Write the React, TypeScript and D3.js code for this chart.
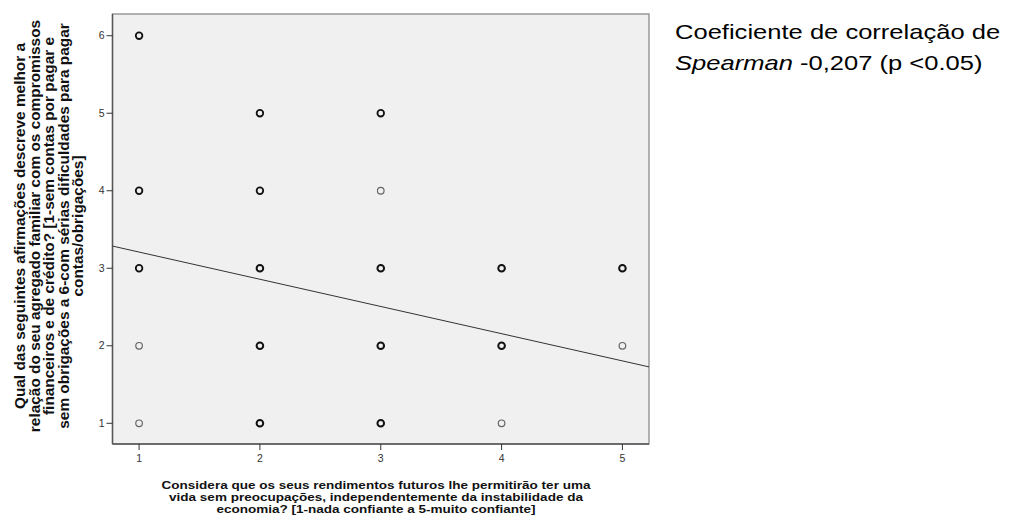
import React from 'react'
import * as d3 from 'd3'

// observed (x, y) pairs; n > 1 means overlapping cases drawn heavier
const points = [
  { x: 1, y: 6, n: 2 }, { x: 1, y: 4, n: 2 }, { x: 1, y: 3, n: 2 }, { x: 1, y: 2, n: 1 }, { x: 1, y: 1, n: 1 },
  { x: 2, y: 5, n: 2 }, { x: 2, y: 4, n: 2 }, { x: 2, y: 3, n: 3 }, { x: 2, y: 2, n: 3 }, { x: 2, y: 1, n: 3 },
  { x: 3, y: 5, n: 2 }, { x: 3, y: 4, n: 1 }, { x: 3, y: 3, n: 3 }, { x: 3, y: 2, n: 3 }, { x: 3, y: 1, n: 3 },
  { x: 4, y: 3, n: 3 }, { x: 4, y: 2, n: 3 }, { x: 4, y: 1, n: 1 },
  { x: 5, y: 3, n: 3 }, { x: 5, y: 2, n: 1 },
]
const xTicks = [1, 2, 3, 4, 5]
const yTicks = [1, 2, 3, 4, 5, 6]
const fit = { intercept: 3.56, slope: -0.351 }

const xTitle = [
  'Considera que os seus rendimentos futuros lhe permitirão ter uma',
  'vida sem preocupações, independentemente da instabilidade da',
  'economia? [1-nada confiante a 5-muito confiante]',
]
const yTitle = [
  'Qual das seguintes afirmações descreve melhor a',
  'relação do seu agregado familiar com os compromissos',
  'financeiros e de crédito? [1-sem contas por pagar e',
  'sem obrigações a 6-com sérias dificuldades para pagar',
  'contas/obrigações]',
]

export default function App() {
  const left = 112.5, right = 649, top = 14, bottom = 444
  const x = d3.scaleLinear().domain([0.78, 5.22]).range([left, right])
  const y = d3.scaleLinear().domain([0.733, 6.28]).range([bottom, top])
  const x0 = x.domain()[0], x1 = x.domain()[1]
  const font = '"Liberation Sans", Arial, sans-serif'

  return (
    <svg width={1013} height={522} style={{ position: 'absolute', left: 0, top: 0 }} fontFamily={font}>
      <rect x={left} y={top} width={right - left} height={bottom - top} fill="#f0f0f0" stroke="#8a8a8a" strokeWidth={1.3} />
      <line x1={left} x2={left} y1={top} y2={bottom} stroke="#555" strokeWidth={1.4} />
      <line x1={left} x2={right} y1={bottom} y2={bottom} stroke="#555" strokeWidth={1.4} />

      {xTicks.map(t => (
        <g key={'x' + t}>
          <line x1={x(t)} x2={x(t)} y1={bottom} y2={bottom + 6} stroke="#333" />
          <text x={x(t)} y={462} fontSize={10.5} textAnchor="middle" fill="#333">{t}</text>
        </g>
      ))}
      {yTicks.map(t => (
        <g key={'y' + t}>
          <line x1={left - 6} x2={left} y1={y(t)} y2={y(t)} stroke="#333" />
          <text x={left - 8} y={y(t) + 3.5} fontSize={10.5} textAnchor="end" fill="#333">{t}</text>
        </g>
      ))}

      <line x1={x(x0)} x2={x(x1)} y1={y(fit.intercept + fit.slope * x0)} y2={y(fit.intercept + fit.slope * x1)}
        stroke="#333" strokeWidth={1} />

      {points.map((p, i) => (
        <circle key={i} cx={x(p.x)} cy={y(p.y)} r={3.3} fill="none"
          stroke={p.n > 1 ? '#111' : '#666'} strokeWidth={p.n > 2 ? 2 : p.n > 1 ? 1.8 : 1.2} />
      ))}

      <text fontSize={11.5} fontWeight="bold" textAnchor="middle" fill="#111" transform="translate(376,0) scale(1.176,1)">
        {xTitle.map((l, i) => <tspan key={i} x={0} y={489.5 + i * 12}>{l}</tspan>)}
      </text>
      <text fontSize={15.4} fontWeight="bold" textAnchor="middle" fill="#111" transform="translate(0,226) rotate(-90)">
        {yTitle.map((l, i) => <tspan key={i} x={0} y={25 + i * 14.5}>{l}</tspan>)}
      </text>

      <text fontSize={21} fill="#000" transform="translate(675,0) scale(1.217,1)">
        <tspan x={0} y={39}>Coeficiente de correlação de</tspan>
        <tspan x={0} y={70.5}><tspan fontStyle="italic">Spearman</tspan> -0,207 (p &lt;0.05)</tspan>
      </text>
    </svg>
  )
}
